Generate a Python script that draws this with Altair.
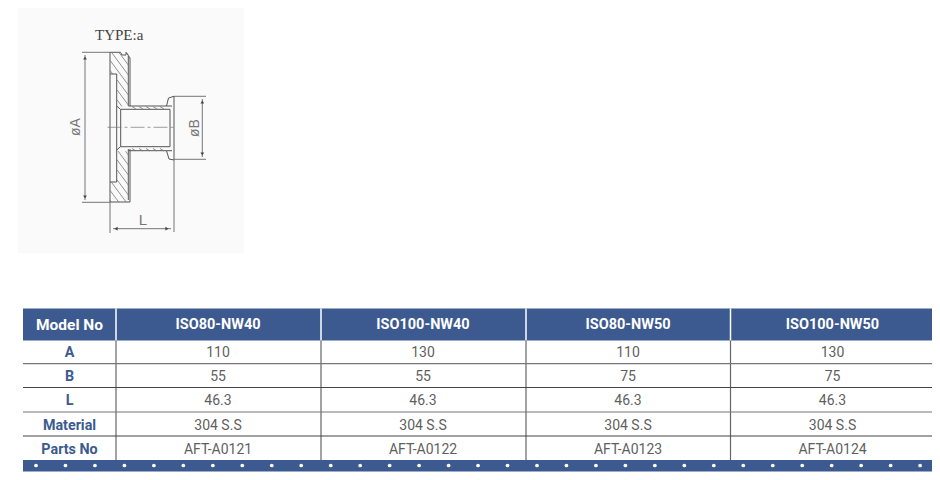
import altair as alt
import pandas as pd

# ---------- table content ----------
COLUMNS = ["Model No", "ISO80-NW40", "ISO100-NW40", "ISO80-NW50", "ISO100-NW50"]
ROWS = ["A", "B", "L", "Material", "Parts No"]
VALUES = {
    "ISO80-NW40": ["110", "55", "46.3", "304 S.S", "AFT-A0121"],
    "ISO100-NW40": ["130", "55", "46.3", "304 S.S", "AFT-A0122"],
    "ISO80-NW50": ["110", "75", "46.3", "304 S.S", "AFT-A0123"],
    "ISO100-NW50": ["130", "75", "46.3", "304 S.S", "AFT-A0124"],
}
TITLE = "TYPE:a"

# ---------- page layout ----------
W, H = 924, 464
X0, Y0 = 8, 8
COL_X = dict(zip(COLUMNS, [69.5, 218, 423, 628, 832.5]))
ROW_Y = dict(zip(["Header"] + ROWS, [324.5, 352.7, 376.7, 401, 425.5, 449.7]))
BLUE = "#3c5a8f"
TXT = "#5f5f5f"
FONT = "Roboto"
R = 932

xpx = alt.Scale(domain=[X0, X0 + W], range=[0, W])
ypx = alt.Scale(domain=[Y0, Y0 + H], range=[0, H])


def px(field, scale, ch):
    return ch(field, type="quantitative", scale=scale, axis=None)


def rects(df, color):
    return alt.Chart(df).mark_rect(color=color).encode(
        x=px("x", xpx, alt.X), x2="x2", y=px("y", ypx, alt.Y), y2="y2")


def segs(seg_list, color, width, dash=None):
    rows = []
    for i, (a, b, c, d) in enumerate(seg_list):
        rows += [{"id": i, "o": 0, "x": a, "y": b}, {"id": i, "o": 1, "x": c, "y": d}]
    kw = {"strokeDash": dash} if dash else {}
    return alt.Chart(pd.DataFrame(rows)).mark_line(color=color, strokeWidth=width, **kw).encode(
        x=px("x", xpx, alt.X), y=px("y", ypx, alt.Y), detail="id:N", order="o:Q")


# ---------- table ----------
panel = rects(pd.DataFrame([{"x": 18, "x2": 244, "y": 8, "y2": 253}]), "#fafafa")
head = rects(pd.DataFrame([{"x": 23, "x2": R, "y": 308.5, "y2": 340.5}]), BLUE)
foot = rects(pd.DataFrame([{"x": 23, "x2": R, "y": 460, "y2": 471.5}]), BLUE)

head_sep = segs([(x, 308.5, x, 340.5) for x in [116, 321, 526, 730.5]], "#ffffff", 1.5)
col_sep = segs([(x, 340.5, x, 460) for x in [116, 321, 526, 730.5]], "#666666", 1.2)
row_sep = segs([(23, 363.7, R, 363.7), (23, 412, R, 412)], "#777777", 1.2) + \
    segs([(23, 387.5, R, 387.5), (23, 436, R, 436)], "#444444", 1.1)

dots = alt.Chart(pd.DataFrame({"x": [36 + 29.47 * i for i in range(31)], "y": [465.5] * 31})).mark_point(
    filled=True, color="#ffffff", size=14, opacity=1).encode(
    x=px("x", xpx, alt.X), y=px("y", ypx, alt.Y))

head_df = pd.DataFrame({"c": COLUMNS[1:], "r": ["Header"] * 4, "t": COLUMNS[1:]})
corner_df = pd.DataFrame({"c": COLUMNS[:1], "r": ["Header"], "t": COLUMNS[:1]})
row_df = pd.DataFrame({"c": [COLUMNS[0]] * 5, "r": ROWS, "t": ROWS})
cell_df = pd.DataFrame([{"c": c, "r": r, "t": VALUES[c][i]} for c in COLUMNS[1:] for i, r in enumerate(ROWS)])


def text_layer(df, color, bold, size):
    d = df.assign(x=df["c"].map(COL_X), y=df["r"].map(ROW_Y))
    return alt.Chart(d).mark_text(font=FONT, fontSize=size, color=color, fontWeight="bold" if bold else "normal",
                                  align="center", baseline="middle").encode(
        x=px("x", xpx, alt.X), y=px("y", ypx, alt.Y), text="t:N")


texts = alt.layer(
    text_layer(head_df, "#ffffff", True, 14.5),
    text_layer(corner_df, "#ffffff", True, 15.5),
    text_layer(row_df, BLUE, True, 14.3),
    text_layer(cell_df, TXT, False, 14),
)

# ---------- technical drawing (coordinates in page pixels) ----------
INK = "#555555"
outline = [
    (110, 52.3, 120.5, 52.3), (120.5, 52.3, 122, 55), (122, 55, 126, 55), (126, 55, 126, 52.3), (126, 52.3, 130, 58),
    (130, 58, 130, 106), (110, 52.3, 110, 202), (110, 202, 130, 202), (130, 197, 130, 149), (130, 202, 130, 197),
    (128.3, 56, 128.3, 106), (128.3, 149, 128.3, 200),
    (110, 74, 116.7, 74), (116.7, 74, 116.7, 182), (116.7, 182, 110, 182),
    (116.7, 106, 120.7, 109.5), (120.7, 109.5, 120.7, 146.5), (120.7, 146.5, 116.7, 150),
    (120.7, 109.3, 170, 109.3), (120.7, 146.7, 170, 146.7),
    (128.5, 106, 166.5, 106), (128.5, 150.7, 166.5, 150.7),
    (166.5, 106, 168.5, 98), (168.5, 98, 174, 96.3), (174, 96.3, 174, 160), (174, 160, 169, 159), (169, 159, 166.5, 150.7),
    (170, 109.3, 170, 146.7), (166.5, 106, 172, 106), (166.5, 150.7, 172, 150.7),
]
dims = [
    (82, 52.3, 110, 52.3), (82, 202.3, 110, 202.3), (85, 55, 85, 200),
    (174, 96.3, 206, 96.3), (174, 159.3, 206, 159.3), (202.3, 99, 202.3, 157),
    (174, 160, 174, 232), (110, 202, 110, 233), (113, 228.7, 171, 228.7),
]
center = [(107.5, 127.3, 176, 127.3)]

hatch = []
for c0 in range(-52, 150, 10):
    prev = None
    for i in range(0, 57):
        x = 110 + i * 18.5 / 56
        y = 52.3 + c0 + (x - 110) * 1.35
        ok = 52.3 <= y <= 202 and not (x < 116.7 and 74 < y < 182) and not (106 < y < 151)
        if ok and prev is None:
            prev = (x, y)
        if prev is not None and (not ok or i == 56):
            hatch.append((prev[0], prev[1], x, y))
            prev = None
for x in range(132, 166, 7):
    hatch.append((x, 106.5, x + 4, 109))
    hatch.append((x, 148.5, x + 4, 151))

draw = segs(outline, INK, 1) + segs(dims, "#666666", 0.9) + segs(hatch, "#777777", 0.8) + \
    segs(center, "#777777", 0.7, dash=[14, 3, 3, 3])

arrows_v = alt.Chart(pd.DataFrame({"x": [85, 85, 202.3, 202.3], "y": [58, 197, 102, 154],
                                   "s": ["triangle-up", "triangle-down", "triangle-up", "triangle-down"]})).mark_point(
    filled=True, color="#444444", size=14, opacity=1).encode(
    x=px("x", xpx, alt.X), y=px("y", ypx, alt.Y),
    shape=alt.Shape("s:N", scale=None, legend=None))
arrows_h = alt.Chart(pd.DataFrame({"x": [116, 167], "y": [228.7, 228.7],
                                   "s": ["triangle-left", "triangle-right"]})).mark_point(
    filled=True, color="#444444", size=14, opacity=1).encode(
    x=px("x", xpx, alt.X), y=px("y", ypx, alt.Y),
    shape=alt.Shape("s:N", scale=None, legend=None))

title = alt.Chart(pd.DataFrame({"x": [95], "y": [34.5], "t": [TITLE]})).mark_text(
    font="Liberation Serif", fontSize=15, color="#444444", align="left", baseline="middle").encode(
    x=px("x", xpx, alt.X), y=px("y", ypx, alt.Y), text="t:N")
lab_rot = alt.Chart(pd.DataFrame({"x": [75.5, 195], "y": [127, 128], "t": ["øA", "øB"]})).mark_text(
    font="Liberation Sans", fontSize=14, color="#777777", angle=270, align="center", baseline="middle").encode(
    x=px("x", xpx, alt.X), y=px("y", ypx, alt.Y), text="t:N")
lab_l = alt.Chart(pd.DataFrame({"x": [143], "y": [220], "t": ["L"]})).mark_text(
    font="Liberation Sans", fontSize=15, color="#777777", align="center", baseline="middle").encode(
    x=px("x", xpx, alt.X), y=px("y", ypx, alt.Y), text="t:N")

chart = alt.layer(panel, head, foot, head_sep, col_sep, row_sep, dots, draw, arrows_v, arrows_h,
                  title, lab_rot, lab_l, texts).properties(
    width=W, height=H, padding=0, autosize=alt.AutoSizeParams(type="none"), background="#ffffff"
).configure_view(stroke=None)

chart.save("out.html", embed_options={"renderer": "svg", "actions": False})
